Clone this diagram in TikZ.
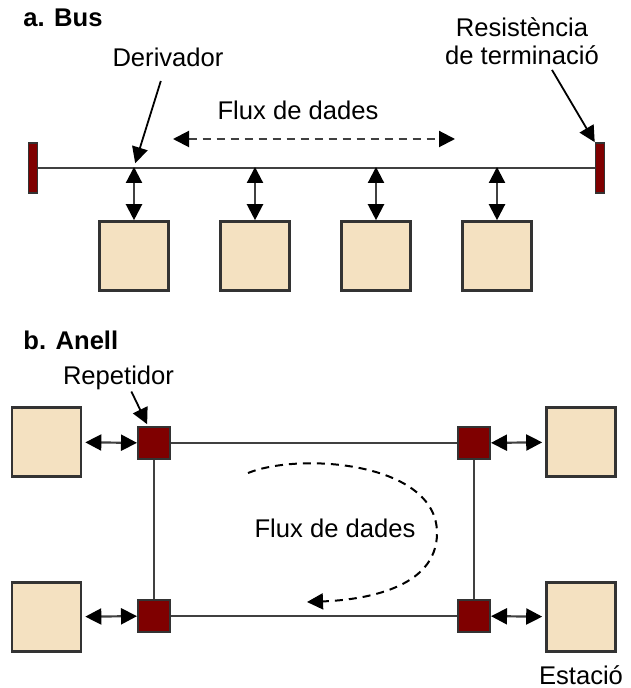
\documentclass[tikz,border=0pt]{standalone}
\usepackage{fontspec}
\setmainfont{Liberation Sans}
\usetikzlibrary{positioning,arrows.meta}
\definecolor{wire}{HTML}{404040}
\definecolor{edge}{HTML}{333333}
\definecolor{repeater}{HTML}{7F0000}
\definecolor{station}{HTML}{F4E1C1}

\begin{document}
\begin{tikzpicture}[
    x=0.5pt, y=-0.5pt,
    >={Triangle[length=8pt,width=8pt,color=black]},
    lbl/.style={font=\fontsize{12.8}{14}\selectfont,align=center,inner sep=0pt},
    title/.style={lbl,font=\fontsize{12.8}{14}\selectfont\bfseries,anchor=base west},
    stat/.style={rectangle,draw=edge,fill=station,line width=1.3pt,
      minimum width=34.5pt,minimum height=34.5pt,inner sep=0pt},
    rep/.style={rectangle,draw=edge,fill=repeater,line width=1pt,
      minimum width=16pt,minimum height=16pt,inner sep=0pt},
    term/.style={rectangle,draw=edge,fill=repeater,line width=0.8pt,
      minimum width=4.5pt,minimum height=25pt,inner sep=0pt},
    link/.style={draw=wire,line width=1.1pt},
    tap/.style={draw=wire,line width=1.1pt,<->},
    pointer/.style={draw=black,line width=0.9pt,->},
    flow/.style={draw=wire,line width=1pt,dash pattern=on 4pt off 3pt}
  ]
    \useasboundingbox (0,0) rectangle (630,688);

    % a. bus
    \node[title] (busttl) at (23,27) {a. Bus};
    \node[term] (termL) at (33,168) {};
    \node[term] (termR) at (600,168) {};
    \draw[link] (termL) -- (termR);

    \foreach \i/\x in {1/134,2/255,3/376,4/497} {
      \coordinate (tap\i) at (\x,167);
      \node[stat] (bst\i) at (\x,256) {};
      \draw[tap] (tap\i) -- (bst\i.north);
    }

    \node[lbl,anchor=base] (derivador) at (168,67) {Derivador};
    \draw[pointer,shorten <=7pt,shorten >=2pt] (derivador) -- (tap1);

    \node[lbl,anchor=base] (busflux) at (298,120) {Flux de dades};
    \coordinate (flowL) at (173,139);
    \coordinate (flowR) at (455,139);
    \draw[flow,<->] (flowL) -- (flowR);

    \node[lbl] (resist) at (522,41) {Resistència\\de terminació};
    \draw[pointer] ([xshift=15pt,yshift=-2.5pt]resist.south) -- (termR.north west);

    % b. anell
    \node[title] (ringttl) at (23,350) {b. Anell};
    \node[rep] (r1) at (154,443) {};
    \node[rep] (r2) at (474,443) {};
    \node[rep] (r3) at (474,616) {};
    \node[rep] (r4) at (154,616) {};
    \draw[link] (r1) -- (r2) -- (r3) -- (r4) -- (r1);

    \node[stat] (s1) at (46.5,442) {};
    \node[stat] (s2) at (581,442) {};
    \node[stat] (s3) at (581,617) {};
    \node[stat] (s4) at (46.5,617) {};
    \draw[tap,shorten <=1.5pt] (s1) -- (r1);
    \draw[tap,shorten >=1.5pt] (r2) -- (s2);
    \draw[tap,shorten >=1.5pt] (r3) -- (s3);
    \draw[tap,shorten <=1.5pt] (s4) -- (r4);

    \node[lbl,anchor=base] (repetidor) at (118.5,384) {Repetidor};
    \draw[pointer,shorten <=1pt,shorten >=1pt] ([xshift=6pt]repetidor.south) -- ([xshift=-3pt]r1.north);

    \node[lbl,anchor=base] (ringflux) at (335,537) {Flux de dades};
    \coordinate (loopA) at (248,473);
    \coordinate (loopB) at (437,533);
    \coordinate (loopC) at (307,602);
    \draw[flow,black,->] (loopA)
      .. controls (300,452) and (437,462) .. (loopB)
      .. controls (437,590) and (360,600) .. (loopC);

    \node[lbl,below=6pt of s3] (estacio) {Estació};
\end{tikzpicture}
\end{document}
